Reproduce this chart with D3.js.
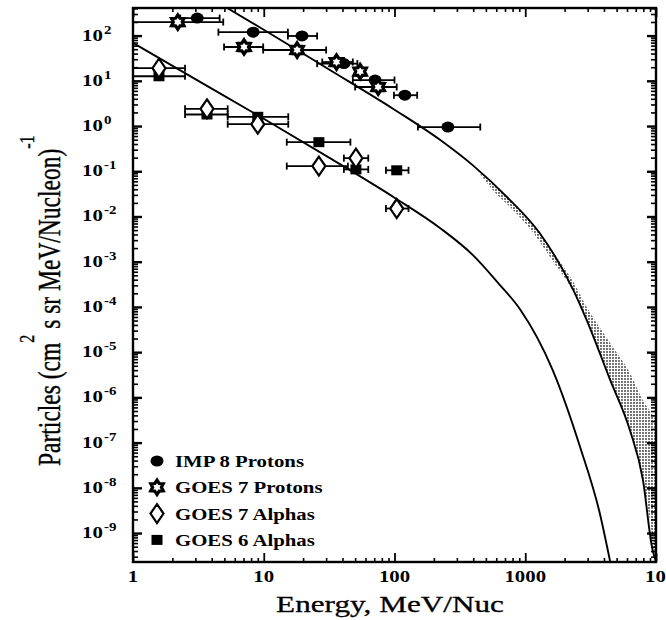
<!DOCTYPE html>
<html>
<head>
<meta charset="utf-8">
<script src="https://cdn.jsdelivr.net/npm/d3@7/dist/d3.min.js"></script>
<style>
  body { margin: 0; background: #fff; }
  text { font-family: "Liberation Serif", "Times New Roman", serif; fill: #000; }
</style>
</head>
<body>
<svg id="chart" width="666" height="620"></svg>
<script>
// energy in MeV/Nuc, flux in particles (cm2 s sr MeV/Nucleon)^-1
const imp8E    = [3.1, 8.3, 19.6, 41, 71, 120, 256];
const imp8Flux = [244, 119, 98, 24, 10.4, 4.8, 0.95];
const imp8Lo   = [2.3, 4.5, 15.3, 25.6, 48, 99, 151];
const imp8Hi   = [4.6, 15.3, 25.6, 52, 100, 149, 453];

const goes7pE    = [2.2, 7.07, 18, 36, 54.6, 75];
const goes7pFlux = [199, 56, 48, 26, 16, 7.3];
const goes7pLo   = [1, 4.97, 9.9, 28, null, 50];
const goes7pHi   = [4.9, 9.9, 30, 48, null, 104];

const goes7aE    = [1.58, 3.68, 9.0, 26.4, 50.7, 104];
const goes7aFlux = [19, 2.4, 1.1, 0.13, 0.195, 0.015];
const goes7aLo   = [1, 2.5, 5.3, 15, 41, 86];
const goes7aHi   = [2.5, 5.3, 15.4, 44, 63, 128];

const goes6aE    = [1.58, 3.68, 9.0, 26.4, 50.7, 104];
const goes6aFlux = [12.6, 1.8, 1.6, 0.44, 0.11, 0.105];
const goes6aLo   = [1, 2.5, 5.3, 15, 41, 86];
const goes6aHi   = [2.5, 5.3, 15.4, 46, 63, 128];

// model spectra
const protonCurveE    = [5.25, 10, 31.6, 100, 224, 398, 724, 1288, 2344, 2951, 4467, 6310, 7943, 9333, 10000];
const protonCurveFlux = [407, 135, 17.8, 2.3, 0.49, 0.135, 0.027, 0.0043, 2.3e-4, 5.1e-5, 2.4e-6, 1.9e-7, 1.5e-8, 4.8e-10, 2.3e-10];

const alphaCurveE    = [1, 3.16, 10, 31.6, 100, 224, 398, 631, 912, 1622, 2630, 3715, 4467];
const alphaCurveFlux = [69, 10, 1.45, 0.2, 0.026, 0.0055, 1.4e-3, 3.2e-4, 8.9e-5, 4e-6, 7.9e-8, 2.75e-9, 2.3e-10];

// stippled uncertainty band
const bandE    = [417, 562, 794, 1122, 1585, 2344, 2951, 3715, 4677, 6310, 7943, 10000];
const bandLow  = [0.12, 0.039, 0.0145, 4.8e-3, 1.15e-3, 2.1e-4, 5.1e-5, 9.3e-6, 1.7e-6, 1.9e-7, 1.5e-8, 2.3e-10];
const bandHigh = [0.12, 0.056, 0.021, 7.1e-3, 1.8e-3, 3.5e-4, 1.0e-4, 3.5e-5, 1.3e-5, 3.5e-6, 8.7e-7, 3.2e-7];

const xTickValues = [1, 10, 100, 1000, 10000];
const xTickLabels = ["1", "10", "100", "1000", "10000"];
const yExponents = [2, 1, 0, -1, -2, -3, -4, -5, -6, -7, -8, -9];

const legendNames = ["IMP 8 Protons", "GOES 7 Protons", "GOES 7 Alphas", "GOES 6 Alphas"];

const plotLeft = 133, plotRight = 656, plotTop = 8, plotBottom = 562;
const svg = d3.select("#chart");

const x = d3.scaleLog().domain([1, 10000]).range([plotLeft, plotRight]);
const y = d3.scaleLog().domain([Math.pow(10, -9.64), Math.pow(10, 2.61)]).range([plotBottom, plotTop]);

const defs = svg.append("defs");
defs.append("clipPath").attr("id", "plotclip")
  .append("rect").attr("x", plotLeft).attr("y", plotTop)
  .attr("width", plotRight - plotLeft).attr("height", plotBottom - plotTop);
const pat = defs.append("pattern").attr("id", "stipple")
  .attr("width", 3).attr("height", 3).attr("patternUnits", "userSpaceOnUse");
pat.append("circle").attr("cx", 1).attr("cy", 1).attr("r", 0.9).attr("fill", "#333");

const plot = svg.append("g").attr("clip-path", "url(#plotclip)");

// band
const band = bandE.map((e, i) => ({ e, lo: bandLow[i], hi: bandHigh[i] }));
plot.append("path")
  .datum(band)
  .attr("fill", "url(#stipple)")
  .attr("d", d3.area().curve(d3.curveMonotoneX)
    .x(d => x(d.e)).y0(d => y(d.lo)).y1(d => y(d.hi)));

// curves
const line = d3.line().curve(d3.curveMonotoneX).x(d => x(d[0])).y(d => y(d[1]));
plot.append("path")
  .datum(d3.zip(protonCurveE, protonCurveFlux))
  .attr("fill", "none").attr("stroke", "#000").attr("stroke-width", 1.9)
  .attr("d", line);
plot.append("path")
  .datum(d3.zip(alphaCurveE, alphaCurveFlux))
  .attr("fill", "none").attr("stroke", "#000").attr("stroke-width", 1.9)
  .attr("d", line);

// axes frame and ticks (inward on all four sides)
const yMajor = yExponents.map(p => Math.pow(10, p));
const yMinor = [];
for (let p = -10; p <= 2; p++) {
  for (let k = 2; k <= 9; k++) {
    const v = k * Math.pow(10, p);
    if (v > y.domain()[0] && v < y.domain()[1]) yMinor.push(v);
  }
}
const xMinor = [];
for (let p = 0; p < 4; p++) {
  for (let k = 2; k <= 9; k++) xMinor.push(k * Math.pow(10, p));
}

function ticks(axis, tx, ty, w) {
  const g = svg.append("g").attr("transform", `translate(${tx},${ty})`).call(axis);
  g.select(".domain").remove();
  g.selectAll("line").attr("stroke", "#000").attr("stroke-width", w);
  g.selectAll("text").remove();
}
ticks(d3.axisRight(y).tickValues(yMajor).tickSize(9), plotLeft, 0, 2.4);
ticks(d3.axisRight(y).tickValues(yMinor).tickSize(5), plotLeft, 0, 1.6);
ticks(d3.axisLeft(y).tickValues(yMajor).tickSize(9), plotRight, 0, 2.4);
ticks(d3.axisLeft(y).tickValues(yMinor).tickSize(5), plotRight, 0, 1.6);
ticks(d3.axisTop(x).tickValues(xTickValues).tickSize(9), 0, plotBottom, 1.8);
ticks(d3.axisTop(x).tickValues(xMinor).tickSize(4), 0, plotBottom, 1.6);
ticks(d3.axisBottom(x).tickValues(xTickValues).tickSize(9), 0, plotTop, 1.8);
ticks(d3.axisBottom(x).tickValues(xMinor).tickSize(4), 0, plotTop, 1.6);

svg.append("rect")
  .attr("x", plotLeft).attr("y", plotTop)
  .attr("width", plotRight - plotLeft).attr("height", plotBottom - plotTop)
  .attr("fill", "none").attr("stroke", "#000").attr("stroke-width", 2.4);

// error bars and markers
const hexPts = d3.range(12).map(i => {
  const a = -Math.PI / 2 + i * Math.PI / 6;
  const r = i % 2 === 0 ? 7.2 : 4.4;
  return [r * Math.cos(a), r * Math.sin(a)];
});
const symbols = {
  imp8: g => g.append("ellipse").attr("rx", 6.5).attr("ry", 5.5).attr("fill", "#000"),
  goes7p: g => g.append("path").attr("d", "M" + hexPts.join("L") + "Z")
    .attr("fill", "#fff").attr("stroke", "#000").attr("stroke-width", 3.2),
  goes7a: g => g.append("path").attr("d", "M0,-9.5L6.5,0L0,9.5L-6.5,0Z")
    .attr("fill", "#fff").attr("stroke", "#000").attr("stroke-width", 2.2),
  goes6a: g => g.append("rect").attr("x", -5.5).attr("y", -5).attr("width", 11).attr("height", 10).attr("fill", "#000")
};

const series = [
  { key: "imp8", e: imp8E, f: imp8Flux, lo: imp8Lo, hi: imp8Hi },
  { key: "goes7p", e: goes7pE, f: goes7pFlux, lo: goes7pLo, hi: goes7pHi },
  { key: "goes6a", e: goes6aE, f: goes6aFlux, lo: goes6aLo, hi: goes6aHi },
  { key: "goes7a", e: goes7aE, f: goes7aFlux, lo: goes7aLo, hi: goes7aHi }
];

const bars = svg.append("g").attr("stroke", "#000").attr("stroke-width", 1.8);
series.forEach(s => {
  s.e.forEach((e, i) => {
    if (s.lo[i] == null) return;
    const yy = y(s.f[i]);
    const x1 = x(s.lo[i]), x2 = x(s.hi[i]);
    bars.append("line").attr("x1", x1).attr("x2", x2).attr("y1", yy).attr("y2", yy);
    bars.append("line").attr("x1", x1).attr("x2", x1).attr("y1", yy - 3.5).attr("y2", yy + 3.5);
    bars.append("line").attr("x1", x2).attr("x2", x2).attr("y1", yy - 3.5).attr("y2", yy + 3.5);
  });
});
series.forEach(s => {
  s.e.forEach((e, i) => {
    const g = svg.append("g").attr("transform", `translate(${x(e)},${y(s.f[i])})`);
    symbols[s.key](g);
  });
});

// tick labels (wide bold serif)
yExponents.forEach(p => {
  const t = svg.append("g")
    .attr("transform", `translate(82,${y(Math.pow(10, p)) + 5}) scale(1.3,1)`)
    .append("text").attr("font-size", 16).attr("font-weight", "bold");
  t.append("tspan").text("10");
  t.append("tspan").attr("dy", -7).attr("font-size", 11.5).attr("dx", 1).text(p);
});
xTickValues.forEach((v, i) => {
  const last = i === xTickValues.length - 1;
  svg.append("g")
    .attr("transform", `translate(${last ? x(v) - 11 : x(v)},582) scale(1.3,1)`)
    .append("text").attr("font-size", 16).attr("font-weight", "bold")
    .attr("text-anchor", last ? "start" : "middle")
    .text(xTickLabels[i]);
});

// axis titles
svg.append("g").attr("transform", "translate(390,612) scale(1.3,1)")
  .append("text").attr("font-size", 24).attr("text-anchor", "middle")
  .attr("stroke", "#000").attr("stroke-width", 0.3)
  .text("Energy, MeV/Nuc");

const yt = svg.append("g").attr("transform", "translate(60,466) scale(1.3,1) rotate(-90)")
  .append("text").attr("font-size", 23.5).attr("text-anchor", "start")
  .attr("stroke", "#000").attr("stroke-width", 0.3);
yt.append("tspan").text("Particles (cm");
yt.append("tspan").attr("dy", -20).attr("font-size", 16).text("2");
yt.append("tspan").attr("dy", 20).text(" s sr MeV/Nucleon)");
yt.append("tspan").attr("dy", -20).attr("font-size", 16).text("-1");

// legend
const legendKeys = ["imp8", "goes7p", "goes7a", "goes6a"];
legendNames.forEach((name, i) => {
  const cy = 461 + i * 26.3;
  const g = svg.append("g").attr("transform", `translate(157,${cy})`);
  symbols[legendKeys[i]](g);
  svg.append("g").attr("transform", `translate(175,${cy + 6}) scale(1.3,1)`)
    .append("text").attr("font-size", 16).attr("font-weight", "bold").text(name);
});
</script>
</body>
</html>
